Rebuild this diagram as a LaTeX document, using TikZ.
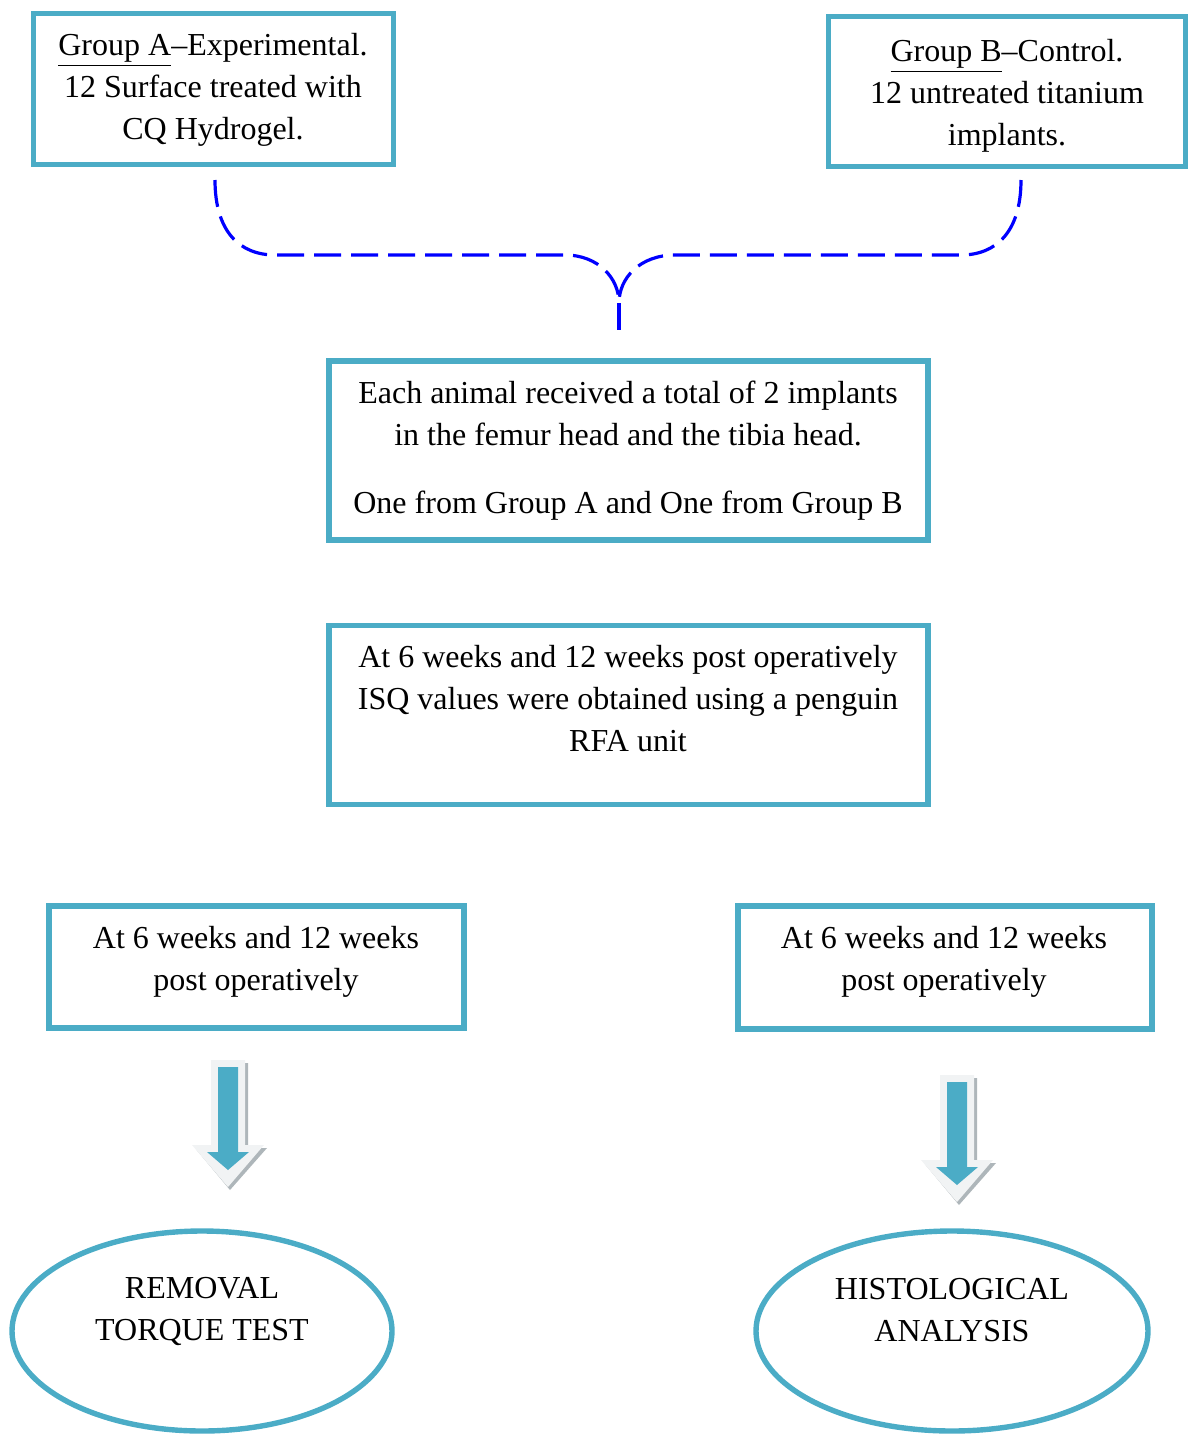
\documentclass[tikz,border=0pt]{standalone}
\usepackage{fontspec}
\setmainfont{Liberation Serif}
\usetikzlibrary{shapes.geometric}
\definecolor{boxblue}{HTML}{4BACC6}
\definecolor{arrowlight}{HTML}{F1F3F4}
\definecolor{arrowshadow}{HTML}{AEB6BA}
\tikzset{
  box/.style={draw=boxblue, line width=2.7pt, rectangle, fill=white, inner sep=0pt},
  oval/.style={draw=boxblue, line width=2.7pt, ellipse, inner sep=0pt},
  txt/.style={align=center, inner sep=0pt, font=\fontsize{16}{21}\selectfont},
  bracepath/.style={draw=blue, line width=1.6pt, dash pattern=on 13.5pt off 5pt},
}
\newcommand{\blockarrowdraw}{%
  \fill[arrowshadow] (-14,3) -- (20,3) -- (20,88) -- (39,88) -- (2,130) -- (-33,88) -- (-14,88) -- cycle;
  \fill[arrowlight] (-17,0) -- (17,0) -- (17,85) -- (36,85) -- (0,127) -- (-36,85) -- (-17,85) -- cycle;
  \fill[boxblue] (-10,7) -- (10,7) -- (10,92) -- (21,92) -- (0,110) -- (-21,92) -- (-10,92) -- cycle;
}
\begin{document}
\begin{tikzpicture}[x=0.5pt,y=-0.5pt]
\useasboundingbox (0,0) rectangle (1188,1435);

% boxes
\node[box, minimum width=180pt, minimum height=75.5pt] (ga) at (213.5,89) {};
\node[txt] (gat) at (213,90) {\underline{Group A}–Experimental.\\12 Surface treated with\\CQ Hydrogel.};

\node[box, minimum width=178.5pt, minimum height=75pt] (gb) at (1007,91.5) {};
\node[txt] (gbt) at (1007,96) {\underline{Group B}–Control.\\12 untreated titanium\\implants.};

\node[box, minimum width=299.5pt, minimum height=89.5pt] (m1) at (628.5,450.5) {};
\node[txt] (m1t) at (628,451) {Each animal received a total of 2 implants\\in the femur head and the tibia head.\\[13pt]One from Group A and One from Group B};

\node[box, minimum width=299.5pt, minimum height=89.5pt] (m2) at (628.5,715) {};
\node[txt] (m2t) at (628,699) {At 6 weeks and 12 weeks post operatively\\ISQ values were obtained using a penguin\\RFA unit};

\node[box, minimum width=207.5pt, minimum height=61pt] (bl) at (256.5,967) {};
\node[txt] (blt) at (256,962) {At 6 weeks and 12 weeks\\post operatively};

\node[box, minimum width=207pt, minimum height=61.5pt] (br) at (945,967.5) {};
\node[txt] (brt) at (944,962) {At 6 weeks and 12 weeks\\post operatively};

% ellipses
\node[oval, minimum width=190pt, minimum height=100pt] (el) at (202,1331) {};
\node[txt] (elt) at (202,1311) {REMOVAL\\TORQUE TEST};
\node[oval, minimum width=196pt, minimum height=100pt] (er) at (952,1331) {};
\node[txt] (ert) at (952,1310) {HISTOLOGICAL\\ANALYSIS};

% brace
\coordinate (bA) at (215,180);
\coordinate (bB) at (1021,180);
\coordinate (bL) at (275,255);
\coordinate (bL2) at (565,255);
\coordinate (bR) at (961,255);
\coordinate (bR2) at (675,255);
\coordinate (bT) at (619,303);
\coordinate (bE) at (619,330);
\path[bracepath] (bA) .. controls (215,232) and (240,255) .. (bL) -- (bL2)
   .. controls (598,255) and (619,278) .. (bT);
\path[bracepath] (bB) .. controls (1021,232) and (996,255) .. (bR) -- (bR2)
   .. controls (640,255) and (619,278) .. (bT);
\path[bracepath] (bT) -- (bE);

% block arrows
\begin{scope}[shift={(228,1060)}]
\blockarrowdraw
\end{scope}
\begin{scope}[shift={(957,1075)}]
\blockarrowdraw
\end{scope}
\end{tikzpicture}
\end{document}
